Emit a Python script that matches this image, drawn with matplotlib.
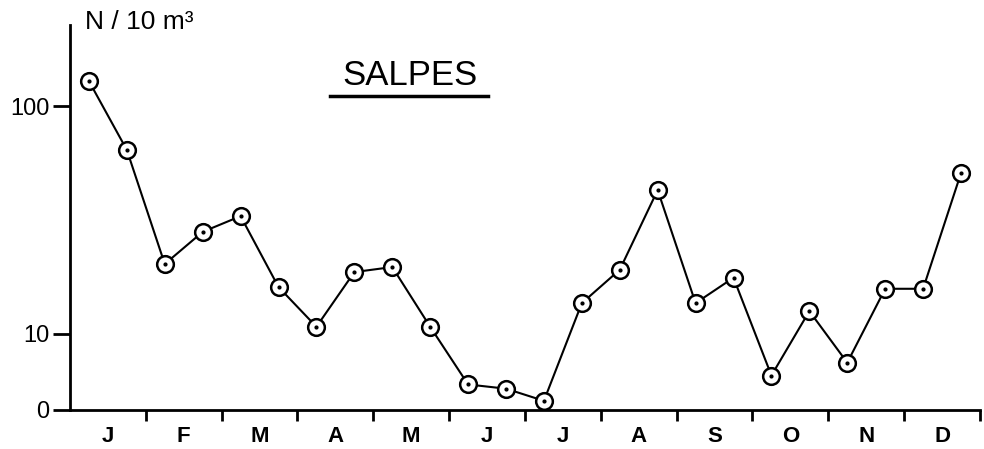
import numpy as np
import matplotlib
matplotlib.use('Agg')
import matplotlib.pyplot as plt

plt.rcParams['font.family'] = ['Liberation Sans', 'DejaVu Sans']

# salp abundance, two samples per month (N / 10 m3)
months = ['J', 'F', 'M', 'A', 'M', 'J', 'J', 'A', 'S', 'O', 'N', 'D']
salpes = [121, 70.7, 24.9, 34.5, 40, 19.2, 11.2, 22.8, 24.1, 11.2, 2.8, 2.3,
          0.95, 15.7, 23.4, 50.5, 15.7, 21.4, 3.9, 14.1, 5.6, 18.8, 18.8, 58.4]
y_ticks = [0, 10, 100]

# the scan's axis compresses 0..10 like log10(n + 15)
shift = 15.0
def fwd(v):
    return np.log10(np.asarray(v, dtype=float) + shift)
def inv(v):
    return 10 ** np.asarray(v, dtype=float) - shift

x = np.arange(len(salpes)) / 2 + 0.25

fig = plt.figure(figsize=(9.84, 4.49), dpi=100)
ax = fig.add_axes([0.0711, 0.0869, 0.9248, 0.857])
ax.set_yscale('function', functions=(fwd, inv))

ax.plot(x, salpes, color='black', lw=1.5, zorder=2)
ax.plot(x, salpes, 'o', ms=12, mfc='white', mec='black', mew=1.8, zorder=3)
ax.plot(x, salpes, 'o', ms=2, color='black', zorder=4)

ax.set_xlim(0, 12)
ax.set_ylim(0, 182.8)

ax.spines['top'].set_visible(False)
ax.spines['right'].set_visible(False)
ax.spines['left'].set_linewidth(2)
ax.spines['bottom'].set_linewidth(2)

ax.set_yticks(y_ticks)
ax.set_yticklabels([str(t) for t in y_ticks], fontsize=17)
ax.tick_params(axis='y', length=12, width=2, pad=3)

ax.set_xticks(np.arange(1, 13))
ax.set_xticklabels([])
ax.tick_params(axis='x', length=8, width=2)
for i, m in enumerate(months):
    ax.text(i + 0.5, -0.07, m, transform=ax.get_xaxis_transform(),
            ha='center', va='center', fontsize=16, fontweight='bold')

fig.text(0.086, 0.952, 'N / 10 m³', fontsize=19, ha='left', va='center')
fig.text(0.417, 0.832, 'SALPES', fontsize=25, ha='center', va='center')
fig.add_artist(plt.Line2D([0.335, 0.496], [0.786, 0.786], color='black', lw=2.5))

fig.savefig('out.png', dpi=100)
